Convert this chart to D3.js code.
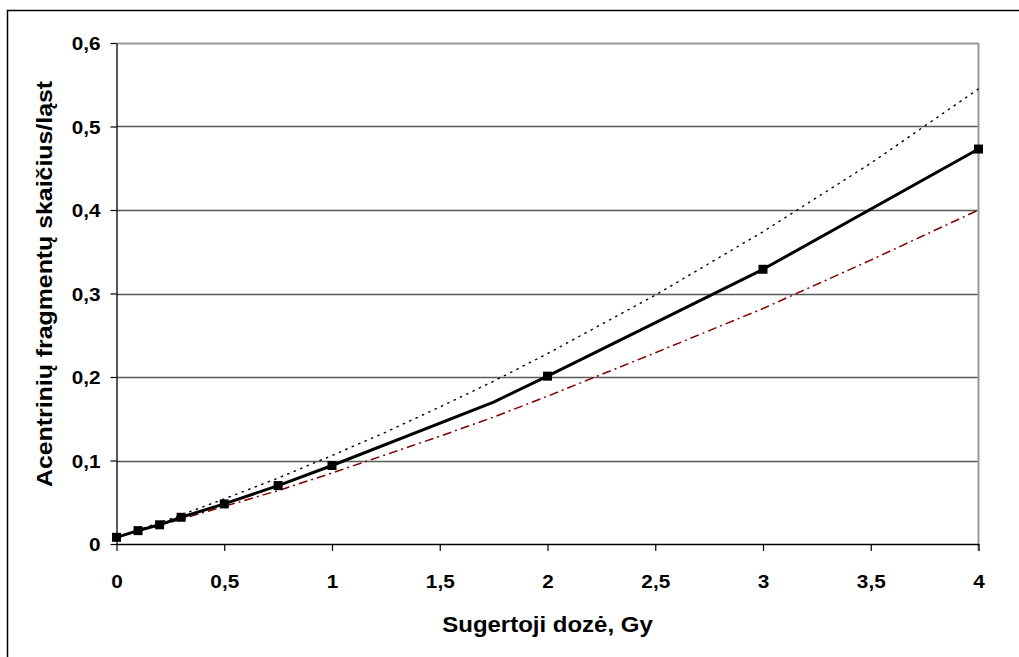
<!DOCTYPE html>
<html>
<head>
<meta charset="utf-8">
<script src="https://cdn.jsdelivr.net/npm/d3@7"></script>
<style>
  html, body { margin: 0; padding: 0; background: #fff; }
  svg { display: block; }
  text { font-family: "Liberation Sans", Arial, sans-serif; font-weight: bold; fill: #000; }
</style>
</head>
<body>
<svg id="chart" width="1019" height="657"></svg>
<script>
// Measured acentric fragments per cell vs absorbed dose
const measuredDose = [0, 0.1, 0.2, 0.3, 0.5, 0.75, 1, 1.75, 2, 3, 4];
const measuredValue = [0.008, 0.016, 0.023, 0.032, 0.048, 0.07, 0.094, 0.17, 0.201, 0.329, 0.473];
const measuredMarker = [true, true, true, true, true, true, true, false, true, true, true];

// Upper and lower bound curves
const boundDose = [0, 0.25, 0.5, 0.75, 1, 1.25, 1.5, 1.75, 2, 2.5, 3, 3.5, 4];
const upperValue = [0.008, 0.030, 0.054, 0.079, 0.106, 0.134, 0.164, 0.195, 0.228, 0.298, 0.374, 0.456, 0.545];
const lowerValue = [0.008, 0.026, 0.045, 0.064, 0.085, 0.107, 0.129, 0.152, 0.177, 0.229, 0.282, 0.340, 0.400];

// Axis ticks
const xTicks = [0, 0.5, 1, 1.5, 2, 2.5, 3, 3.5, 4];
const yTicks = [0, 0.1, 0.2, 0.3, 0.4, 0.5, 0.6];

const xTitle = "Sugertoji dozė, Gy";
const yTitle = "Acentrinių fragmentų skaičius/ląst";

const svg = d3.select("#chart");
const plot = { left: 116.5, right: 978.5, top: 43, bottom: 544 };

const x = d3.scaleLinear().domain([0, 4]).range([plot.left, plot.right]);
const y = d3.scaleLinear().domain([0, 0.6]).range([plot.bottom, plot.top]);
const fmt = d => String(d).replace(".", ",");

// widen text glyphs horizontally by factor k
function widen(sel, k) {
  sel.each(function () {
    const len = this.getComputedTextLength();
    d3.select(this).attr("textLength", len * k).attr("lengthAdjust", "spacingAndGlyphs");
  });
}

// outer frame (extends past the right and bottom edges)
svg.append("rect")
  .attr("x", 7.5).attr("y", 10.5)
  .attr("width", 1030).attr("height", 660)
  .attr("fill", "none").attr("stroke", "#000").attr("stroke-width", 1.5);

// horizontal grid lines
svg.append("g").selectAll("line")
  .data(yTicks.filter(d => d > 0))
  .join("line")
  .attr("x1", plot.left).attr("x2", plot.right)
  .attr("y1", d => Math.round(y(d)) + 0.5).attr("y2", d => Math.round(y(d)) + 0.5)
  .attr("stroke", d => d === 0.6 ? "#999" : "#5a5a5a")
  .attr("stroke-width", d => d === 0.6 ? 2 : 1.3);

// right border of the plot area
svg.append("line")
  .attr("x1", plot.right).attr("x2", plot.right)
  .attr("y1", plot.top).attr("y2", plot.bottom + 7)
  .attr("stroke", "#999").attr("stroke-width", 2);

// y axis
const yAxis = d3.axisLeft(y).tickValues(yTicks).tickSize(6).tickSizeOuter(0).tickPadding(10).tickFormat(fmt);
const gy = svg.append("g").attr("transform", `translate(${plot.left},0)`).call(yAxis);
gy.select(".domain").attr("stroke", "#000").attr("stroke-width", 1.3);
gy.selectAll(".tick line").attr("stroke", "#000").attr("stroke-width", 1.2);
gy.selectAll(".tick text").attr("font-size", 18.5).attr("dy", "0.36em")
  .style("font-family", "'Liberation Sans', Arial, sans-serif").style("font-weight", "bold");
widen(gy.selectAll(".tick text"), 1.12);

// x axis
const xAxis = d3.axisBottom(x).tickValues(xTicks).tickSize(7).tickSizeOuter(0).tickPadding(20).tickFormat(fmt);
const gx = svg.append("g").attr("transform", `translate(0,${plot.bottom})`).call(xAxis);
gx.select(".domain").attr("stroke", "#000").attr("stroke-width", 1.3);
gx.selectAll(".tick line").attr("stroke", "#000").attr("stroke-width", 1.2);
gx.selectAll(".tick text").attr("font-size", 18.5).attr("dy", "0").attr("y", 44)
  .style("font-family", "'Liberation Sans', Arial, sans-serif").style("font-weight", "bold");
widen(gx.selectAll(".tick text"), 1.12);

// axis titles
const xt = svg.append("text")
  .attr("x", (plot.left + plot.right) / 2).attr("y", 632)
  .attr("text-anchor", "middle").attr("font-size", 22)
  .text(xTitle);
widen(xt, 1.09);

const yt = svg.append("text")
  .attr("transform", `translate(52,${284}) rotate(-90)`)
  .attr("text-anchor", "middle").attr("font-size", 22)
  .text(yTitle);
widen(yt, 1.13);

const line = d3.line().x(d => x(d[0])).y(d => y(d[1]));

// upper bound: dotted black
svg.append("path")
  .datum(boundDose.map((d, i) => [d, upperValue[i]]))
  .attr("d", line)
  .attr("fill", "none").attr("stroke", "#000").attr("stroke-width", 1.4)
  .attr("stroke-dasharray", "2.5,4.5");

// lower bound: dark red dash-dot
svg.append("path")
  .datum(boundDose.map((d, i) => [d, lowerValue[i]]))
  .attr("d", line)
  .attr("fill", "none").attr("stroke", "#800000").attr("stroke-width", 1.5)
  .attr("stroke-dasharray", "9,4,2,4");

// measured: solid black with square markers
const measured = measuredDose.map((d, i) => [d, measuredValue[i], measuredMarker[i]]);
svg.append("path")
  .datum(measured)
  .attr("d", line)
  .attr("fill", "none").attr("stroke", "#000").attr("stroke-width", 3)
  .attr("stroke-linejoin", "round");

svg.append("g").selectAll("rect")
  .data(measured.filter(d => d[2]))
  .join("rect")
  .attr("x", d => x(d[0]) - 4.5).attr("y", d => y(d[1]) - 4.5)
  .attr("width", 9).attr("height", 9)
  .attr("fill", "#000");
</script>
</body>
</html>
